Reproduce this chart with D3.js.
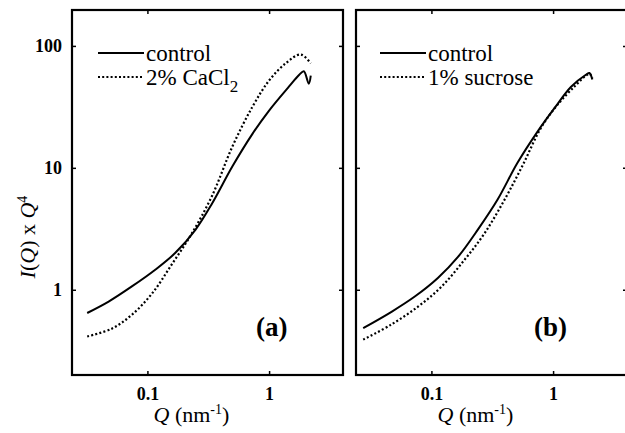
<!DOCTYPE html>
<html>
<head>
<meta charset="utf-8">
<script src="https://cdn.jsdelivr.net/npm/d3@7"></script>
<style>
    body { margin: 0; background: #fff; }
    svg text { font-family: 'Liberation Serif', 'Times New Roman', serif; }
</style>
</head>
<body>
<svg id="chart" width="625" height="433"></svg>
<script>
// Panel (a): control vs 2% CaCl2
const q_a_control = [0.032, 0.048, 0.074, 0.116, 0.169, 0.248, 0.34, 0.50, 0.73, 1.0, 1.46, 1.77, 1.93, 2.12, 2.2];
const i_a_control = [0.645, 0.80, 1.06, 1.46, 2.0, 3.1, 5.1, 10.3, 19, 29.5, 46.5, 58, 62, 49, 57];
const q_a_cacl2 = [0.032, 0.051, 0.074, 0.109, 0.159, 0.232, 0.34, 0.50, 0.73, 1.0, 1.37, 1.82, 2.2];
const i_a_cacl2 = [0.414, 0.48, 0.62, 0.93, 1.62, 2.9, 5.9, 15, 31.7, 52, 72, 85, 72];

// Panel (b): control vs 1% sucrose
const q_b_control = [0.0275, 0.047, 0.073, 0.113, 0.166, 0.24, 0.35, 0.51, 0.75, 1.03, 1.4, 1.86, 1.99, 2.1];
const i_b_control = [0.485, 0.66, 0.88, 1.25, 1.87, 3.1, 5.5, 11, 20, 31, 46, 58, 60, 53];
const q_b_sucrose = [0.0275, 0.047, 0.078, 0.121, 0.187, 0.273, 0.40, 0.565, 0.80, 1.09, 1.5, 1.88, 2.0, 2.1];
const i_b_sucrose = [0.39, 0.52, 0.73, 1.06, 1.76, 2.9, 5.5, 10.6, 21.5, 33, 46.5, 57.5, 59, 54];

// Tick values and legend text
const x_ticks = [0.1, 1];
const y_ticks = [1, 10, 100];
const legend_a = ["control", "2% CaCl"];
const legend_b = ["control", "1% sucrose"];

// Layout of the two framed panels
const panel_top = 10, panel_bottom = 375;
const panels = [
    { left: 72, right: 343, label: "(a)", legend: legend_a,
      series: [[q_a_control, i_a_control], [q_a_cacl2, i_a_cacl2]] },
    { left: 356, right: 627, label: "(b)", legend: legend_b,
      series: [[q_b_control, i_b_control], [q_b_sucrose, i_b_sucrose]] }
];
const dash_styles = [null, "2,2.2"];

const svg = d3.select("#chart");

// Shared y scale (log)
const y_scale = d3.scaleLog().domain([0.2, 197]).range([panel_bottom, panel_top]);

// Strip the domain path and the sans-serif font that d3 axes set
function clean_axis(a) {
    a.select(".domain").remove();
    a.attr("font-family", null);
}

panels.forEach(function (p, k) {
    // x scale (log) for this panel
    const x_scale = d3.scaleLog().domain([0.024, 4.05]).range([p.left, p.right]);
    const g = svg.append("g");

    // Inward ticks on all four sides
    g.append("g")
        .attr("transform", "translate(0," + panel_bottom + ")")
        .call(d3.axisBottom(x_scale).tickValues(x_ticks).tickSizeInner(-4).tickSizeOuter(0).tickPadding(12)
            .tickFormat(function (d) { return d === 1 ? "1" : "0.1"; }))
        .call(clean_axis)
        .selectAll("text")
        .attr("font-size", 18).attr("font-weight", "bold");
    g.append("g")
        .attr("transform", "translate(0," + panel_top + ")")
        .call(d3.axisTop(x_scale).tickValues(x_ticks).tickSizeInner(-4).tickSizeOuter(0).tickFormat(""))
        .call(clean_axis);
    g.append("g")
        .attr("transform", "translate(" + p.left + ",0)")
        .call(d3.axisLeft(y_scale).tickValues(y_ticks).tickSizeInner(-4).tickSizeOuter(0).tickPadding(10)
            .tickFormat(k === 0 ? d3.format("d") : ""))
        .call(clean_axis)
        .selectAll("text")
        .attr("font-size", 18).attr("font-weight", "bold");
    g.append("g")
        .attr("transform", "translate(" + p.right + ",0)")
        .call(d3.axisRight(y_scale).tickValues(y_ticks).tickSizeInner(-4).tickSizeOuter(0).tickFormat(""))
        .call(clean_axis);
    g.selectAll(".tick line").attr("stroke", "#000").attr("stroke-width", 1.5);

    // Frame
    g.append("rect")
        .attr("x", p.left).attr("y", panel_top)
        .attr("width", p.right - p.left).attr("height", panel_bottom - panel_top)
        .attr("fill", "none").attr("stroke", "#000").attr("stroke-width", 2.2);

    // Curves
    const line = d3.line()
        .curve(d3.curveCatmullRom.alpha(0.5))
        .x(function (d) { return x_scale(d[0]); })
        .y(function (d) { return y_scale(d[1]); });
    p.series.forEach(function (s, j) {
        g.append("path")
            .datum(d3.zip(s[0], s[1]))
            .attr("fill", "none")
            .attr("stroke", "#000")
            .attr("stroke-width", j === 0 ? 2 : 2.2)
            .attr("stroke-dasharray", dash_styles[j])
            .attr("d", line);
    });

    // Legend
    const lx = p.left + (k === 0 ? 26 : 24);
    p.legend.forEach(function (name, j) {
        const base = 61 + j * 24;
        g.append("line")
            .attr("x1", lx).attr("x2", lx + 46)
            .attr("y1", base - 8).attr("y2", base - 8)
            .attr("stroke", "#000").attr("stroke-width", j === 0 ? 2 : 2.2)
            .attr("stroke-dasharray", dash_styles[j]);
        const t = g.append("text")
            .attr("x", lx + 48).attr("y", base)
            .attr("font-size", 23)
            .text(name);
        if (k === 0 && j === 1) {
            t.append("tspan").attr("dy", 7).attr("font-size", 17).text("2");
        }
    });

    // Panel label
    g.append("text")
        .attr("x", p.left + (k === 0 ? 184 : 178)).attr("y", 336)
        .attr("font-size", 27).attr("font-weight", "bold")
        .text(p.label);

    // x-axis title
    const xt = g.append("text")
        .attr("x", x_scale(0.23)).attr("y", 422)
        .attr("text-anchor", "middle")
        .attr("font-size", 22);
    xt.append("tspan").attr("font-style", "italic").text("Q");
    xt.append("tspan").text(" (nm");
    xt.append("tspan").attr("dy", -8).attr("font-size", 14).text("-1");
    xt.append("tspan").attr("dy", 8).text(")");
});

// y-axis title
const yt = svg.append("text")
    .attr("transform", "translate(35,237) rotate(-90)")
    .attr("text-anchor", "middle")
    .attr("font-size", 22);
yt.append("tspan").attr("font-style", "italic").text("I");
yt.append("tspan").text("(");
yt.append("tspan").attr("font-style", "italic").text("Q");
yt.append("tspan").text(") x ");
yt.append("tspan").attr("font-style", "italic").text("Q");
yt.append("tspan").attr("dy", -8).attr("font-size", 14).text("4");
</script>
</body>
</html>
